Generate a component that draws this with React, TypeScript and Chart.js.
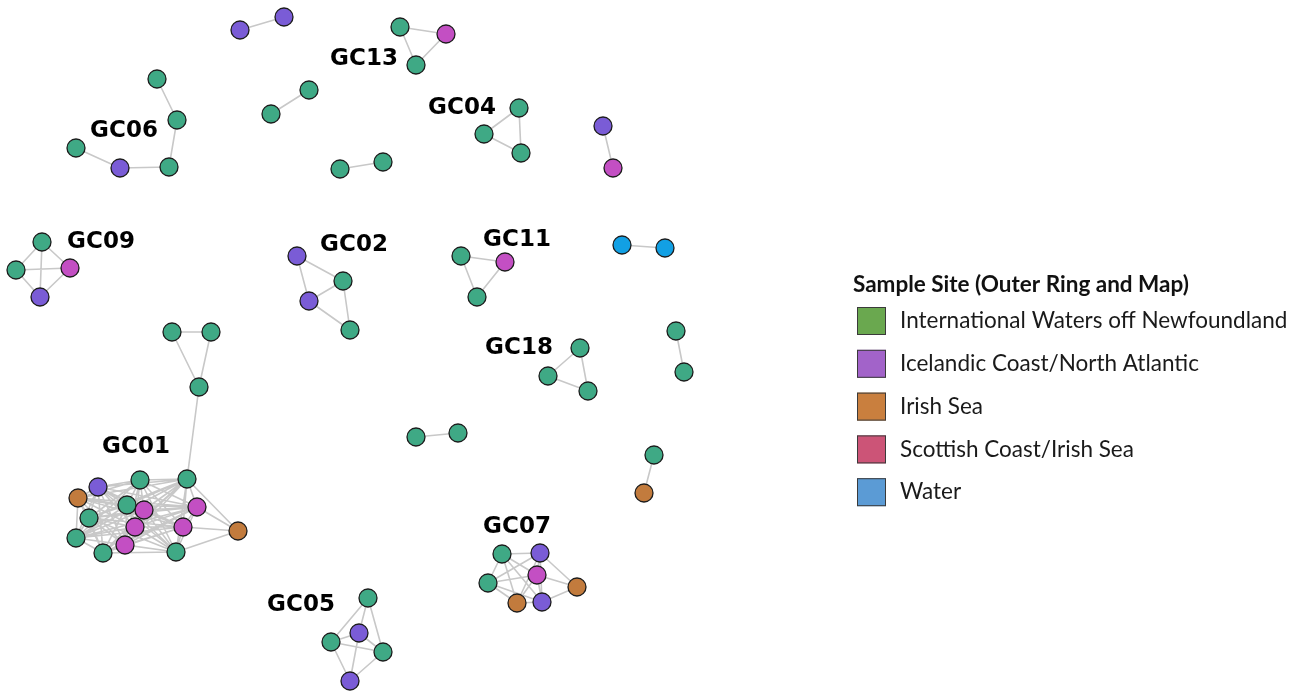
import React, { useEffect, useRef } from "react";
import { Chart, registerables } from "chart.js";
Chart.register(...registerables);

const siteNames = [
  "International Waters off Newfoundland",
  "Icelandic Coast/North Atlantic",
  "Irish Sea",
  "Scottish Coast/Irish Sea",
  "Water",
];
const legendColors = ["#6aa84f", "#a263c9", "#c97f3e", "#cc5477", "#5b9bd5"];
const nodeColors = ["#3fa985", "#7a5cd6", "#c27b3d", "#c34fc3", "#12a0e4"];
const legendTitle = "Sample Site (Outer Ring and Map)";

// [id, x, y, site index]
const nodes: [string, number, number, number][] = [
  ["p1", 240, 30, 1], ["p2", 284, 17, 1],
  ["a1", 400, 27, 0], ["a2", 446, 34, 3], ["a3", 416, 65, 0],
  ["b1", 157, 79, 0], ["b2", 177, 120, 0], ["b3", 169, 167, 0], ["b4", 120, 168, 1], ["b5", 76, 148, 0],
  ["c1", 271, 114, 0], ["c2", 309, 90, 0],
  ["d1", 519, 108, 0], ["d2", 484, 134, 0], ["d3", 521, 153, 0],
  ["e1", 340, 169, 0], ["e2", 383, 162, 0],
  ["f1", 603, 126, 1], ["f2", 613, 168, 3],
  ["g1", 42, 242, 0], ["g2", 16, 270, 0], ["g3", 70, 268, 3], ["g4", 40, 297, 1],
  ["h1", 297, 256, 1], ["h2", 343, 281, 0], ["h3", 309, 301, 1], ["h4", 350, 330, 0],
  ["i1", 461, 256, 0], ["i2", 505, 262, 3], ["i3", 477, 297, 0],
  ["j1", 622, 245, 4], ["j2", 665, 248, 4],
  ["k1", 172, 332, 0], ["k2", 211, 332, 0], ["k3", 199, 387, 0],
  ["l1", 580, 348, 0], ["l2", 548, 376, 0], ["l3", 588, 391, 0],
  ["m1", 676, 331, 0], ["m2", 684, 372, 0],
  ["n1", 416, 437, 0], ["n2", 458, 433, 0],
  ["o1", 654, 455, 0], ["o2", 644, 493, 2],
  ["u1", 98, 487, 1], ["u2", 140, 480, 0], ["u3", 187, 479, 0], ["u4", 78, 498, 2],
  ["u5", 127, 505, 0], ["u6", 144, 510, 3], ["u7", 197, 507, 3], ["u8", 89, 518, 0],
  ["u9", 135, 527, 3], ["u10", 183, 527, 3], ["u11", 238, 531, 2], ["u12", 76, 538, 0],
  ["u13", 103, 553, 0], ["u14", 125, 545, 3], ["u15", 176, 552, 0],
  ["v1", 502, 554, 0], ["v2", 540, 553, 1], ["v3", 537, 575, 3], ["v4", 488, 583, 0],
  ["v5", 577, 587, 2], ["v6", 517, 603, 2], ["v7", 542, 602, 1],
  ["w1", 368, 598, 0], ["w2", 359, 633, 1], ["w3", 331, 642, 0], ["w4", 383, 652, 0], ["w5", 350, 681, 1],
];

// [node, space-separated neighbours]
const adjacency: [string, string][] = [
  ["p1", "p2"],
  ["a1", "a2 a3"], ["a2", "a3"],
  ["b1", "b2"], ["b2", "b3"], ["b3", "b4"], ["b4", "b5"],
  ["c1", "c2"],
  ["d1", "d2 d3"], ["d2", "d3"],
  ["e1", "e2"],
  ["f1", "f2"],
  ["g1", "g2 g3 g4"], ["g2", "g3 g4"], ["g3", "g4"],
  ["h1", "h2 h3"], ["h2", "h3 h4"], ["h3", "h4"],
  ["i1", "i2 i3"], ["i2", "i3"],
  ["j1", "j2"],
  ["k1", "k2 k3"], ["k2", "k3"], ["k3", "u3"],
  ["l1", "l2 l3"], ["l2", "l3"],
  ["m1", "m2"],
  ["n1", "n2"],
  ["o1", "o2"],
  ["u1", "u2 u3 u4 u5 u6 u7 u8 u9 u10 u12 u13 u14 u15"],
  ["u2", "u3 u4 u5 u6 u7 u8 u9 u10 u12 u13 u14 u15"],
  ["u3", "u4 u5 u6 u7 u8 u9 u10 u11 u12 u13 u14 u15"],
  ["u4", "u5 u6 u7 u8 u9 u10 u12 u13 u14"],
  ["u5", "u6 u7 u8 u9 u10 u12 u13 u14 u15"],
  ["u6", "u7 u8 u9 u10 u12 u13 u14 u15"],
  ["u7", "u8 u9 u10 u11 u12 u13 u14 u15"],
  ["u8", "u9 u10 u12 u13 u14 u15"],
  ["u9", "u10 u12 u13 u14 u15"],
  ["u10", "u11 u12 u13 u14 u15"],
  ["u11", "u15"],
  ["u12", "u13 u14 u15"],
  ["u13", "u14 u15"],
  ["u14", "u15"],
  ["v1", "v2 v3 v4 v6 v7"], ["v2", "v3 v4 v5 v6 v7"], ["v3", "v4 v5 v6 v7"],
  ["v4", "v6 v7"], ["v5", "v7"], ["v6", "v7"],
  ["w1", "w2 w3 w4"], ["w2", "w3 w4 w5"], ["w3", "w4 w5"], ["w4", "w5"],
];

// [label, x, y]
const clusterLabels: [string, number, number][] = [
  ["GC13", 364, 59], ["GC06", 124, 131], ["GC04", 462, 108], ["GC09", 101, 242],
  ["GC02", 354, 245], ["GC11", 517, 240], ["GC18", 519, 348], ["GC01", 136, 447],
  ["GC07", 517, 527], ["GC05", 301, 605],
];

const W = 1303;
const H = 692;

export default function App() {
  const ref = useRef<HTMLCanvasElement | null>(null);
  useEffect(() => {
    if (!ref.current) return;
    const pos: Record<string, { x: number; y: number }> = {};
    nodes.forEach(([id, x, y]) => (pos[id] = { x, y }));
    const edgeData: { x: number; y: number | null }[] = [];
    adjacency.forEach(([a, list]) => {
      list.split(" ").forEach((b) => {
        edgeData.push({ ...pos[a] }, { ...pos[b] }, { x: pos[b].x, y: null });
      });
    });
    const nodeSets = siteNames.map((name, si) => ({
      type: "scatter" as const,
      label: name,
      data: nodes.filter((n) => n[3] === si).map(([, x, y]) => ({ x, y })),
      pointRadius: 9,
      pointBackgroundColor: nodeColors[si],
      pointBorderColor: "#1c1c1c",
      pointBorderWidth: 1.3,
      showLine: false,
      order: 1,
      clip: false as any,
    }));

    const overlay = {
      id: "overlay",
      afterDatasetsDraw(chart: any) {
        const ctx = chart.ctx;
        const xs = chart.scales.x;
        const ys = chart.scales.y;
        ctx.save();
        ctx.fillStyle = "#000";
        ctx.font = "bold 23px 'DejaVu Sans'";
        ctx.textAlign = "center";
        ctx.textBaseline = "middle";
        clusterLabels.forEach(([t, x, y]) => {
          ctx.fillText(t, xs.getPixelForValue(x), ys.getPixelForValue(y));
        });
        // legend
        ctx.textAlign = "left";
        ctx.font = "bold 22.5px Lato";
        ctx.fillStyle = "#111";
        ctx.fillText(legendTitle, 853, 285);
        ctx.font = "22.5px Lato";
        siteNames.forEach((name, i) => {
          const cy = 321 + i * 42.8;
          ctx.fillStyle = legendColors[i];
          ctx.fillRect(857, cy - 14, 29, 28);
          ctx.strokeStyle = "#3a3a3a";
          ctx.lineWidth = 1;
          ctx.strokeRect(857.5, cy - 13.5, 28, 27);
          ctx.fillStyle = "#1a1a1a";
          ctx.fillText(name, 900, cy);
        });
        ctx.restore();
      },
    };

    const chart = new Chart(ref.current, {
      type: "scatter",
      data: {
        datasets: [
          {
            type: "line" as const,
            label: "edges",
            data: edgeData as any,
            borderColor: "#c8c8c8",
            borderWidth: 1.6,
            pointRadius: 0,
            spanGaps: false,
            fill: false,
            tension: 0,
            order: 2,
          } as any,
          ...nodeSets,
        ],
      },
      options: {
        animation: false,
        responsive: false,
        maintainAspectRatio: false,
        layout: { padding: 0, autoPadding: false },
        events: [],
        plugins: { legend: { display: false }, tooltip: { enabled: false } },
        scales: {
          x: { type: "linear", min: 0, max: W, display: false },
          y: { type: "linear", min: 0, max: H, reverse: true, display: false },
        },
      },
      plugins: [overlay],
    });
    return () => chart.destroy();
  }, []);
  return (
    <div style={{ position: "absolute", left: 0, top: 0, width: W, height: H, background: "#fff" }}>
      <canvas ref={ref} width={W} height={H} style={{ width: W, height: H, display: "block" }} />
    </div>
  );
}
